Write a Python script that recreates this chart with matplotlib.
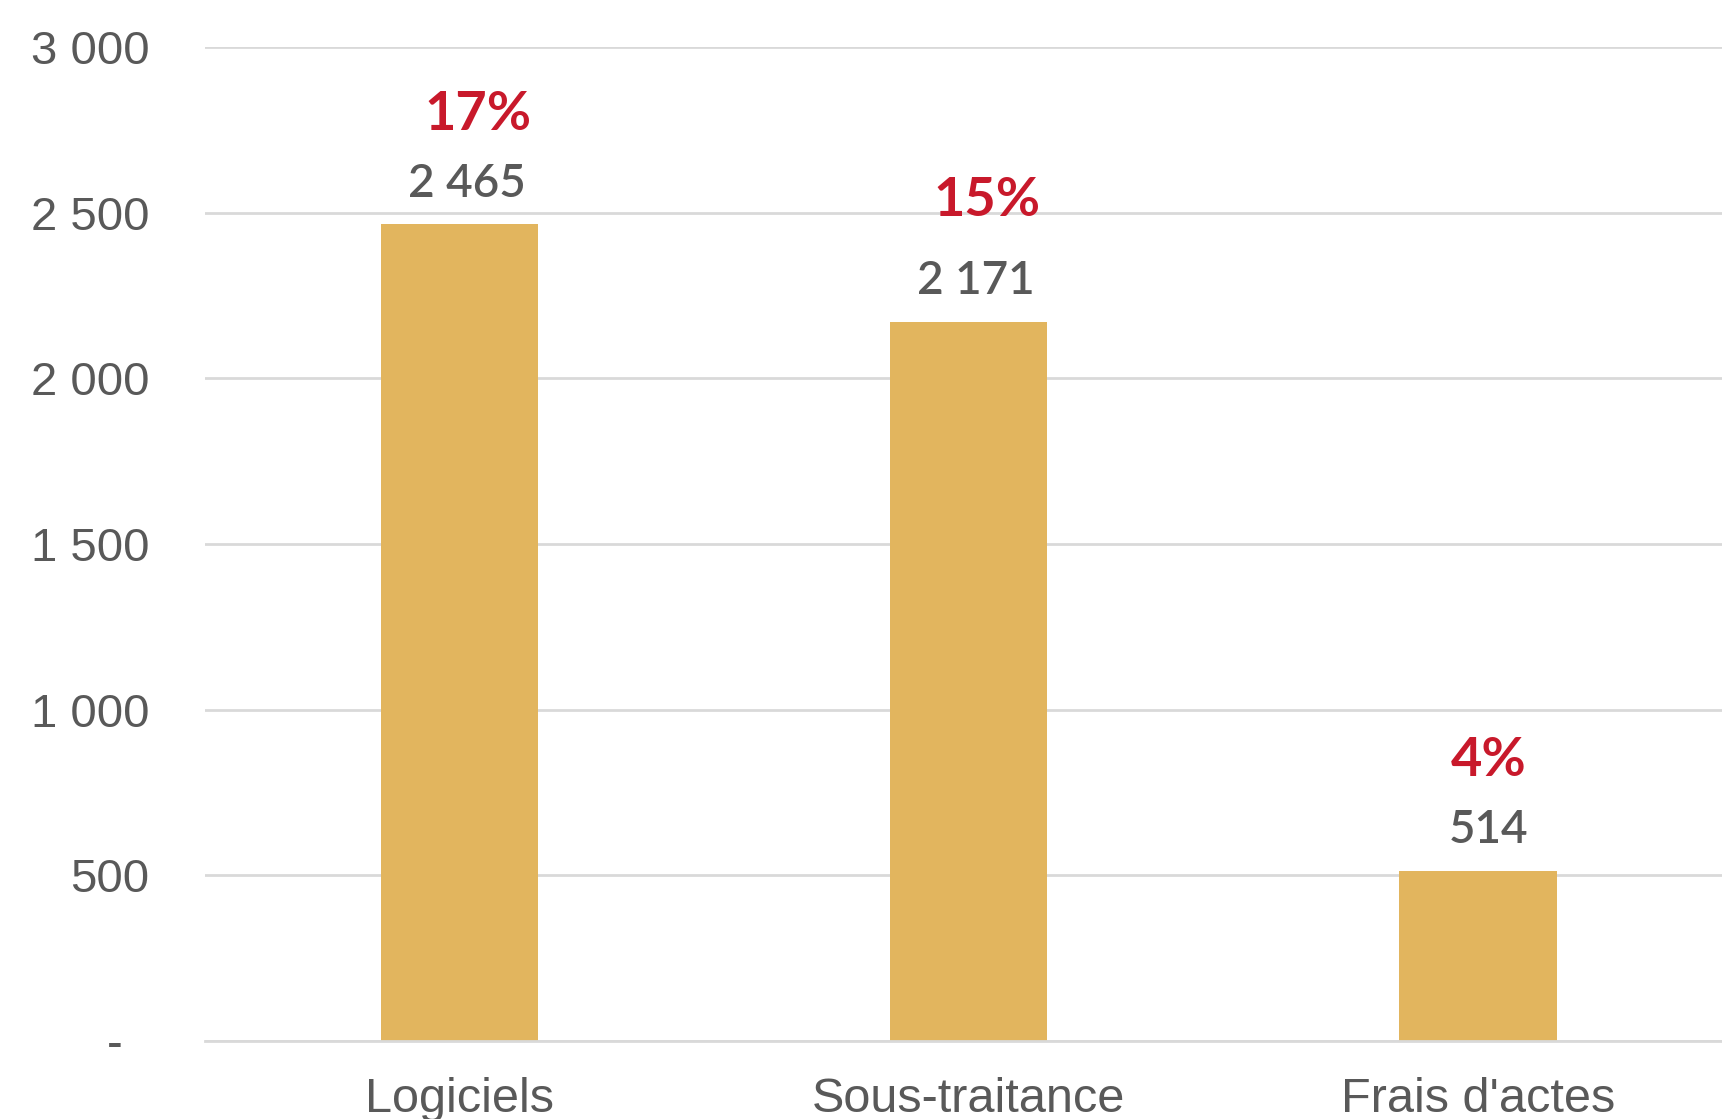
import matplotlib.pyplot as plt

# data
categories = ["Logiciels", "Sous-traitance", "Frais d'actes"]
values = [2465, 2171, 514]
value_labels = ["2 465", "2 171", "514"]
pct_labels = ["17%", "15%", "4%"]
yticks = [0, 500, 1000, 1500, 2000, 2500, 3000]
ytick_labels = ["-  ", "500", "1 000", "1 500", "2 000", "2 500", "3 000"]

BAR_COLOR = "#E2B55E"
GRID_COLOR = "#D9D9D9"
TEXT_COLOR = "#595959"
RED = "#C8192B"

fig = plt.figure(figsize=(17.22, 11.19), dpi=100)
ax = fig.add_axes([205 / 1722, (1119 - 1041) / 1119, 1 - 205 / 1722, (1041 - 47) / 1119])

x = range(len(categories))
bars = ax.bar(x, values, width=0.31, color=BAR_COLOR, zorder=2)

ax.set_xlim(-0.5, 2.48)
ax.set_ylim(0, 3000)
ax.set_yticks(yticks)
ax.set_yticklabels(ytick_labels)
ax.set_xticks(list(x))
ax.set_xticklabels(categories)

ax.grid(axis="y", color=GRID_COLOR, linewidth=2, zorder=0)
ax.set_axisbelow(True)
for s in ["top", "right", "left"]:
    ax.spines[s].set_visible(False)
ax.spines["bottom"].set_color(GRID_COLOR)
ax.spines["bottom"].set_linewidth(2)

ax.tick_params(axis="y", length=0, pad=40, labelsize=34, labelcolor=TEXT_COLOR)
ax.tick_params(axis="x", length=0, pad=26, labelsize=35, labelcolor=TEXT_COLOR)
for lab in ax.get_xticklabels() + ax.get_yticklabels():
    lab.set_family("Liberation Sans")

# labels above bars
pct_offsets = [79, 87, 79]
for i, b in enumerate(bars):
    cx = b.get_x() + b.get_width() / 2
    top = b.get_height()
    ax.annotate(value_labels[i], (cx, top), xytext=(5 if i < 2 else 8, 29),
                textcoords="offset points", ha="center", va="center",
                fontsize=33, color=TEXT_COLOR, family="Lato", fontweight="semibold",
                annotation_clip=False)
    ax.annotate(pct_labels[i], (cx, top), xytext=(13 if i < 2 else 8, pct_offsets[i]),
                textcoords="offset points", ha="center", va="center",
                fontsize=39, color=RED, fontweight="bold", family="Lato",
                annotation_clip=False)

fig.savefig("out.png", dpi=100)
